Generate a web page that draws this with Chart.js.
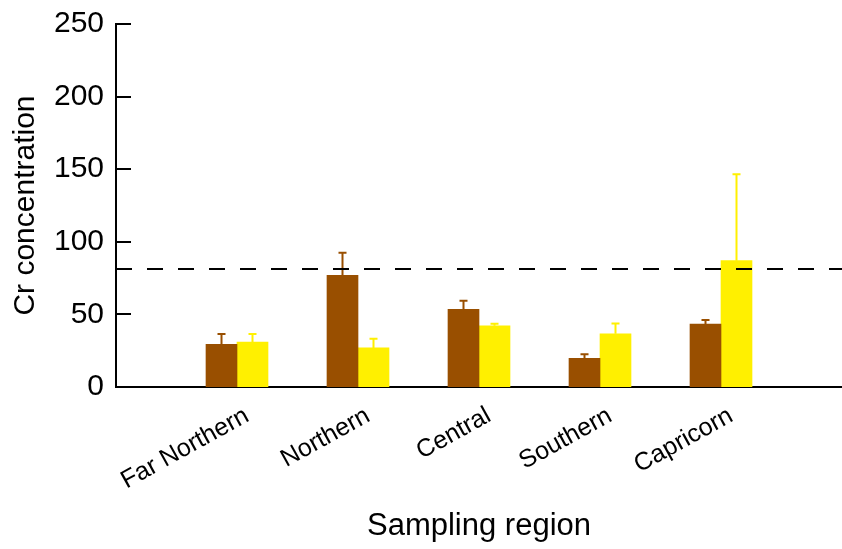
<!DOCTYPE html>
<html>
<head>
<meta charset="utf-8">
<script src="https://cdn.jsdelivr.net/npm/chart.js@4.4.1/dist/chart.umd.min.js"></script>
<style>
  html, body { margin: 0; padding: 0; background: #fff; }
  #wrap { width: 842px; height: 549px; }
</style>
</head>
<body>
<div id="wrap"><canvas id="chart" width="842" height="549"></canvas></div>
<script>
/* Cr concentration by sampling region, two groups with error bars.
   Empty slots at both ends keep the regions at positions 1..5 of a 0..6 axis. */

const regions = ['Far Northern', 'Northern', 'Central', 'Southern', 'Capricorn'];
const brownVals = [29.4, 76.9, 53.5, 19.7, 43.4];
const brownErr  = [7.1, 15.6, 5.9, 2.8, 2.7];
const yellowVals = [31.0, 26.9, 42.2, 36.7, 87.0];
const yellowErr  = [5.5, 6.4, 1.4, 7.1, 59.5];
const guideline = 81;
const yTicks = [0, 50, 100, 150, 200, 250];

const FONT = '"Liberation Sans", Arial, sans-serif';
const BROWN = '#994F00';
const YELLOW = '#FFF000';

const pad = arr => [null, ...arr, null];
const labels = ['', ...regions, ''];
const errs = [pad(brownErr), pad(yellowErr)];

// error bars, inward y ticks and the dashed reference line
const extras = {
  id: 'extras',
  afterDatasetsDraw(chart){
    const ctx = chart.ctx;
    const y = chart.scales.y;
    const area = chart.chartArea;
    ctx.save();

    chart.data.datasets.forEach((ds, i) => {
      const meta = chart.getDatasetMeta(i);
      ctx.strokeStyle = ds.backgroundColor;
      ctx.lineWidth = 2;
      meta.data.forEach((bar, j) => {
        const v = ds.data[j];
        if (v == null) return;
        const top = y.getPixelForValue(v + errs[i][j]);
        ctx.beginPath();
        ctx.moveTo(bar.x, bar.y);
        ctx.lineTo(bar.x, top);
        ctx.moveTo(bar.x - 4, top);
        ctx.lineTo(bar.x + 4, top);
        ctx.stroke();
      });
    });

    ctx.strokeStyle = '#000';
    ctx.lineWidth = 2;
    [...yTicks, guideline].forEach(t => {
      const py = Math.round(y.getPixelForValue(t));
      ctx.beginPath();
      ctx.moveTo(area.left, py);
      ctx.lineTo(area.left + 15, py);
      ctx.stroke();
    });

    const gy = Math.round(y.getPixelForValue(guideline));
    ctx.setLineDash([16, 15]);
    ctx.beginPath();
    ctx.moveTo(area.left, gy);
    ctx.lineTo(area.right, gy);
    ctx.stroke();
    ctx.restore();
  }
};

new Chart(document.getElementById('chart'), {
  type: 'bar',
  data: {
    labels: labels,
    datasets: [
      { data: pad(brownVals), backgroundColor: BROWN, borderWidth: 0 },
      { data: pad(yellowVals), backgroundColor: YELLOW, borderWidth: 0 }
    ]
  },
  options: {
    responsive: false,
    animation: false,
    barThickness: 31,
    layout: { padding: { top: 24, right: 0, left: 0, bottom: 0 } },
    plugins: {
      legend: { display: false },
      tooltip: { enabled: false }
    },
    scales: {
      x: {
        offset: false,
        grid: { display: false, drawTicks: false },
        border: { display: true, color: '#000', width: 2 },
        ticks: {
          autoSkip: false,
          minRotation: 29,
          maxRotation: 29,
          padding: 14,
          labelOffset: 10,
          color: '#000',
          font: { family: FONT, size: 25 }
        },
        title: {
          display: true,
          text: 'Sampling region',
          color: '#000',
          font: { family: FONT, size: 31 },
          padding: { top: 0, bottom: 4 }
        },
        afterFit(scale){
          scale.height = 162;
          scale.paddingLeft = 0;
          scale.paddingRight = 0;
        }
      },
      y: {
        min: 0,
        max: 250,
        grid: { display: false, drawTicks: false },
        border: { display: true, color: '#000', width: 2 },
        ticks: {
          stepSize: 50,
          padding: 12,
          color: '#000',
          font: { family: FONT, size: 30 }
        },
        title: {
          display: true,
          text: 'Cr concentration',
          color: '#000',
          font: { family: FONT, size: 30 },
          padding: { top: 8, bottom: 0 }
        },
        afterFit(scale){
          scale.width = 116;
          scale.paddingTop = 0;
          scale.paddingBottom = 0;
        }
      }
    }
  },
  plugins: [extras]
});
</script>
</body>
</html>
